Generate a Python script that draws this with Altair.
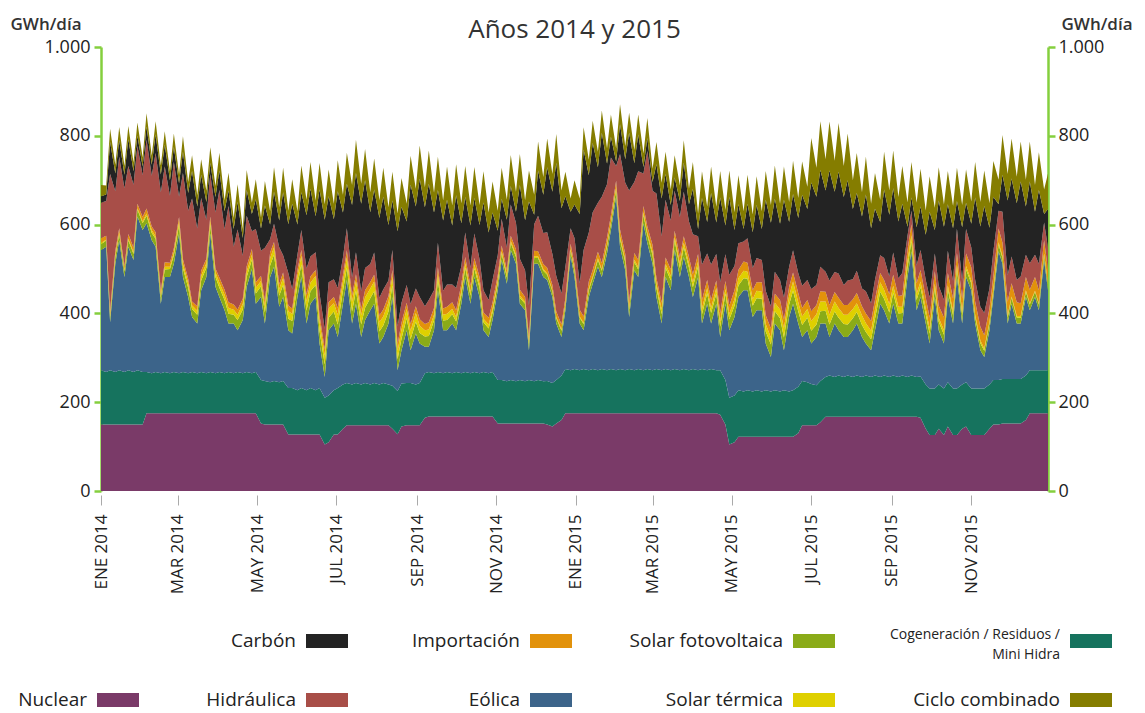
import datetime
import pandas as pd
import altair as alt

# ---------------- data (GWh/día), sampled on Wednesdays and Sundays ----------------
start = datetime.date(2014, 1, 1)  # Wednesday
fechas = []
for w in range(105):
    fechas.append(start + datetime.timedelta(days=7 * w))
    if w < 104:
        fechas.append(start + datetime.timedelta(days=7 * w + 4))
fechas_txt = [d.strftime("%Y-%m-%dT00:00:00") for d in fechas]

nuclear = [
    150, 150, 150, 150, 150, 150, 150, 150, 150, 150,
    175, 175, 175, 175, 175, 175, 175, 175, 175, 175,
    175, 175, 175, 175, 175, 175, 175, 175, 175, 175,
    175, 175, 175, 175, 175, 152, 150, 150, 150, 150,
    150, 127, 127, 127, 127, 127, 127, 127, 127, 105,
    110, 127, 127, 140, 148, 148, 148, 148, 148, 148,
    148, 148, 148, 148, 140, 128, 145, 148, 148, 148,
    148, 165, 168, 168, 168, 168, 168, 168, 168, 168,
    168, 168, 168, 168, 168, 168, 168, 152, 152, 152,
    152, 152, 152, 152, 152, 152, 152, 152, 150, 145,
    152, 160, 175, 175, 175, 175, 175, 175, 175, 175,
    175, 175, 175, 175, 175, 175, 175, 175, 175, 175,
    175, 175, 175, 175, 175, 175, 175, 175, 175, 175,
    175, 175, 175, 175, 175, 175, 172, 150, 105, 110,
    122, 122, 122, 122, 122, 122, 122, 122, 122, 122,
    122, 122, 122, 130, 148, 148, 148, 148, 155, 167,
    167, 167, 167, 167, 167, 167, 167, 167, 167, 167,
    167, 167, 167, 167, 167, 167, 167, 167, 167, 167,
    165, 140, 126, 126, 140, 126, 145, 126, 126, 140,
    145, 126, 126, 126, 126, 140, 150, 150, 152, 152,
    152, 152, 152, 160, 175, 175, 175, 175, 175,
]
cogeneracion = [
    122, 118, 122, 118, 122, 118, 122, 118, 122, 118,
    93, 90, 93, 90, 93, 90, 93, 90, 93, 90,
    93, 90, 93, 90, 93, 90, 93, 90, 93, 90,
    93, 90, 93, 90, 93, 98, 98, 95, 98, 95,
    98, 105, 105, 100, 105, 100, 105, 100, 105, 105,
    105, 100, 105, 100, 95, 92, 95, 92, 95, 92,
    95, 92, 95, 92, 97, 97, 97, 95, 95, 92,
    95, 100, 100, 97, 100, 97, 100, 97, 100, 97,
    100, 97, 100, 97, 100, 97, 100, 98, 98, 95,
    98, 95, 98, 95, 98, 95, 98, 95, 98, 98,
    98, 100, 100, 97, 100, 97, 100, 97, 100, 97,
    100, 97, 100, 97, 100, 97, 100, 97, 100, 97,
    100, 97, 100, 97, 100, 97, 100, 97, 100, 97,
    100, 97, 100, 97, 100, 97, 100, 100, 105, 105,
    105, 102, 105, 102, 105, 102, 105, 102, 105, 102,
    105, 102, 105, 105, 100, 97, 93, 90, 93, 90,
    93, 90, 93, 90, 93, 90, 93, 90, 93, 90,
    93, 90, 93, 90, 93, 90, 93, 90, 93, 90,
    93, 100, 105, 105, 100, 105, 100, 105, 105, 100,
    100, 105, 105, 105, 105, 100, 100, 100, 100, 100,
    100, 100, 100, 100, 97, 97, 97, 97, 97,
]
eolica = [
    271, 282, 108, 244, 293, 214, 278, 252, 346, 320,
    335, 300, 282, 157, 214, 217, 244, 315, 214, 172,
    124, 112, 184, 217, 312, 195, 169, 142, 109, 112,
    94, 120, 192, 235, 154, 187, 129, 237, 257, 170,
    189, 130, 123, 210, 250, 150, 190, 210, 100, 47,
    147, 150, 115, 182, 232, 137, 179, 107, 142, 167,
    179, 92, 104, 137, 200, 47, 75, 119, 74, 115,
    89, 60, 57, 97, 184, 97, 94, 112, 94, 157,
    214, 157, 214, 172, 94, 82, 117, 202, 270, 220,
    293, 265, 172, 160, 67, 265, 262, 235, 227, 194,
    127, 87, 132, 258, 207, 105, 87, 165, 192, 233,
    207, 263, 313, 391, 275, 225, 117, 225, 207, 331,
    283, 240, 162, 105, 207, 180, 268, 210, 252, 210,
    162, 210, 102, 150, 102, 150, 75, 172, 152, 177,
    210, 228, 225, 168, 180, 183, 105, 78, 150, 138,
    90, 168, 195, 142, 99, 117, 91, 109, 129, 120,
    87, 120, 102, 90, 87, 105, 117, 90, 72, 60,
    102, 165, 147, 120, 162, 120, 117, 225, 280, 150,
    179, 137, 101, 206, 122, 101, 192, 146, 251, 137,
    237, 221, 146, 86, 71, 122, 187, 290, 260, 125,
    170, 125, 125, 177, 135, 165, 135, 248, 180,
]
solar_fv = [
    13, 14, 12, 15, 14, 13, 15, 14, 16,
    15, 17, 16, 18, 14, 17, 18, 19,
    19, 20, 21, 18, 20, 22, 21, 19, 22,
    21, 23, 22, 20, 23, 24, 22, 21, 23, 24,
    25, 26, 27, 25, 27, 26, 28,
    27, 28, 29, 28, 27, 29, 28, 28, 27,
    28, 29, 28, 27, 29, 28, 28, 27, 28,
    27, 26, 27, 26, 25, 26, 27, 25, 26,
    24, 23, 24, 22, 23, 22, 23, 21,
    20, 19, 21, 18, 19, 20, 18, 19, 17,
    16, 15, 14, 16, 15, 13, 15, 14, 13,
    13, 14, 12, 13, 12, 14, 13, 12, 13,
    13, 14, 15, 13, 15, 14, 16, 15,
    16, 17, 18, 16, 18, 17, 19, 18,
    19, 20, 21, 20, 22, 21, 20, 22, 21,
    22, 23, 21, 23, 24, 22, 23, 22, 24,
    25, 26, 27, 26, 25, 27, 26, 27, 28,
    28, 27, 29, 28, 29, 28, 27, 28,
    29, 28, 28, 29, 28, 27, 28, 29, 28,
    27, 26, 27, 26, 25, 26, 27, 26, 25,
    24, 23, 24, 22, 23, 23, 22, 21, 22,
    20, 19, 20, 18, 19, 18, 19, 17,
    16, 15, 16, 14, 15, 14, 15, 13, 14,
    13, 14, 13, 12, 13, 12, 13, 12, 13,
]
solar_termica = [
    3, 2, 3, 4, 3, 2, 3, 4, 3,
    4, 5, 6, 5, 4, 6, 5, 6,
    8, 9, 10, 8, 9, 11, 10, 9, 10,
    11, 12, 13, 11, 12, 13, 12, 11, 13, 12,
    15, 16, 17, 15, 16, 17, 16,
    19, 20, 21, 19, 20, 21, 20, 21, 19,
    22, 21, 23, 22, 22, 21, 23, 22, 22,
    21, 20, 21, 20, 19, 20, 21, 19, 20,
    16, 14, 15, 13, 14, 13, 14, 12,
    10, 9, 10, 8, 9, 9, 8, 9, 8,
    6, 5, 6, 4, 5, 5, 4, 5, 4,
    3, 4, 3, 2, 3, 3, 2, 3, 3,
    3, 3, 4, 3, 4, 3, 4, 3,
    5, 6, 5, 4, 6, 5, 6, 5,
    8, 9, 10, 9, 10, 8, 9, 10, 9,
    11, 12, 13, 12, 11, 13, 12, 11, 13,
    15, 16, 17, 16, 15, 17, 16, 17, 16,
    19, 20, 21, 20, 21, 20, 19, 20,
    22, 23, 22, 21, 22, 23, 22, 21, 22,
    21, 20, 21, 20, 19, 20, 21, 20, 19,
    16, 15, 14, 14, 13, 14, 13, 13, 12,
    10, 9, 10, 8, 9, 9, 8, 8,
    6, 5, 6, 5, 4, 5, 5, 4, 5,
    3, 3, 4, 3, 3, 2, 3, 3, 3,
]
importacion = [
    10, 9, 11, 10, 10, 9, 11, 10, 10,
    10, 11, 9, 10, 11, 10, 9, 10,
    10, 11, 10, 9, 10, 11, 10, 10, 9,
    12, 11, 13, 12, 12, 11, 12, 13, 12, 11,
    12, 13, 12, 11, 12, 13, 12,
    14, 13, 15, 14, 14, 13, 15, 14, 14,
    15, 14, 16, 15, 15, 14, 16, 15, 15,
    15, 16, 14, 15, 15, 16, 14, 15, 15,
    15, 14, 16, 15, 15, 14, 16, 15,
    15, 16, 14, 15, 15, 16, 14, 15, 15,
    12, 13, 11, 12, 12, 13, 11, 12, 12,
    12, 11, 13, 12, 12, 11, 13, 12, 12,
    15, 14, 16, 15, 15, 14, 16, 15,
    15, 16, 14, 15, 15, 16, 14, 15,
    15, 14, 16, 15, 15, 14, 16, 15, 15,
    18, 17, 19, 18, 18, 17, 19, 18, 18,
    20, 19, 21, 20, 20, 19, 21, 20, 20,
    20, 21, 19, 20, 20, 21, 19, 20,
    22, 21, 23, 22, 22, 21, 23, 22, 22,
    22, 23, 21, 22, 22, 23, 21, 22, 22,
    25, 24, 26, 25, 25, 24, 26, 25, 25,
    28, 27, 29, 28, 28, 27, 29, 28,
    30, 29, 31, 30, 30, 29, 31, 30, 30,
    30, 31, 29, 30, 30, 31, 29, 30, 30,
]
hidraulica = [
    80, 78, 308, 134, 161, 176, 153, 142, 130, 94,
    155, 114, 178, 222, 216, 151, 194, 46, 194, 153,
    232, 175, 164, 88, 96, 126, 197, 137, 217, 130,
    180, 97, 114, 40, 120, 57, 119, 30, 41, 83,
    39, 73, 44, 35, 45, 59, 45, 40, 50, 45,
    45, 40, 45, 40, 50, 40, 50, 40, 50, 40,
    50, 40, 45, 35, 45, 40, 45, 40, 45, 40,
    50, 40, 50, 40, 55, 40, 50, 40, 50, 40,
    55, 40, 55, 40, 50, 40, 50, 45, 60, 50,
    70, 60, 70, 60, 70, 60, 80, 70, 80, 70,
    80, 70, 70, 35, 60, 60, 150, 110, 130, 110,
    150, 120, 130, 33, 170, 160, 250, 160, 200, 73,
    170, 122, 190, 150, 130, 110, 90, 90, 100, 80,
    90, 40, 80, 60, 80, 60, 70, 60, 70, 55,
    60, 45, 55, 50, 55, 50, 55, 50, 50, 45,
    50, 45, 50, 45, 50, 45, 50, 45, 55, 45,
    55, 45, 55, 45, 55, 45, 50, 40, 50, 40,
    45, 40, 50, 40, 50, 40, 50, 32, 30, 40,
    45, 40, 45, 40, 45, 40, 50, 40, 55, 40,
    55, 45, 50, 45, 50, 45, 55, 40, 70, 60,
    60, 50, 60, 50, 60, 50, 60, 40, 50,
]
carbon = [
    15, 15, 72, 40, 37, 30, 60, 30, 23, 20,
    30, 25, 42, 40, 49, 35, 34, 30, 48, 40,
    62, 50, 52, 40, 25, 35, 44, 40, 35, 40,
    62, 40, 58, 39, 67, 50, 95, 33, 72, 60,
    142, 110, 192, 68, 85, 120, 153, 81, 234, 246,
    194, 135, 218, 101, 100, 163, 178, 197, 198, 117,
    142, 180, 209, 125, 111, 214, 216, 143, 269, 185,
    266, 223, 262, 175, 119, 158, 191, 133, 209, 97,
    80, 95, 80, 77, 198, 152, 152, 55, 45, 63,
    42, 25, 166, 113, 234, 21, 102, 86, 146, 140,
    255, 192, 159, 37, 75, 156, 226, 129, 156, 80,
    144, 46, 47, 10, 67, 53, 130, 42, 83, 15,
    29, 20, 66, 85, 58, 35, 30, 36, 66, 39,
    103, 16, 150, 71, 161, 71, 190, 65, 175, 81,
    88, 28, 78, 81, 119, 70, 205, 188, 164, 127,
    220, 101, 127, 124, 205, 160, 240, 199, 218, 183,
    248, 181, 229, 198, 226, 158, 175, 162, 218, 169,
    160, 75, 154, 139, 145, 128, 156, 20, 30, 86,
    98, 101, 193, 53, 192, 164, 105, 119, 62, 121,
    59, 53, 185, 181, 241, 137, 123, 15, 83, 168,
    176, 173, 214, 109, 184, 97, 166, 19, 87,
]
ciclo_combinado = [
    25, 20, 30, 20, 30, 20, 30, 20, 30, 20,
    30, 20, 30, 20, 30, 20, 30, 20, 35, 25,
    35, 25, 35, 25, 35, 25, 40, 25, 40, 25,
    40, 20, 45, 25, 45, 25, 55, 30, 55, 30,
    55, 30, 55, 30, 60, 35, 60, 35, 60, 35,
    60, 35, 70, 40, 70, 45, 75, 45, 70, 45,
    70, 40, 65, 40, 65, 40, 65, 40, 65, 40,
    75, 45, 75, 45, 75, 45, 75, 45, 70, 45,
    70, 45, 70, 45, 70, 45, 70, 45, 70, 45,
    70, 45, 70, 45, 70, 45, 65, 40, 65, 40,
    65, 40, 55, 30, 55, 35, 50, 35, 50, 35,
    50, 35, 50, 30, 45, 30, 45, 30, 45, 30,
    45, 30, 50, 35, 50, 35, 50, 35, 50, 35,
    60, 35, 60, 35, 60, 35, 60, 35, 60, 40,
    65, 40, 65, 40, 65, 40, 65, 40, 75, 45,
    75, 45, 75, 45, 75, 50, 100, 65, 110, 70,
    110, 70, 110, 70, 105, 65, 90, 55, 85, 55,
    80, 50, 85, 55, 85, 55, 85, 55, 80, 55,
    85, 55, 80, 50, 75, 50, 75, 50, 75, 50,
    75, 50, 80, 55, 80, 55, 80, 55, 90, 60,
    90, 60, 90, 60, 90, 60, 85, 55, 80,
]

fuentes = [
    "Nuclear",
    "Cogeneración / Residuos / Mini Hidra",
    "Eólica",
    "Solar fotovoltaica",
    "Solar térmica",
    "Importación",
    "Hidráulica",
    "Carbón",
    "Ciclo combinado",
]
colores = [
    "#7a3a68", "#16735e", "#3c648a", "#8aab18", "#dfd000",
    "#e2920b", "#a84e48", "#232323", "#857d00",
]
series = [nuclear, cogeneracion, eolica, solar_fv, solar_termica,
          importacion, hidraulica, carbon, ciclo_combinado]

y_ticks = [0, 200, 400, 600, 800, 1000]
meses_ticks = [(2014, 1), (2014, 3), (2014, 5), (2014, 7), (2014, 9), (2014, 11),
               (2015, 1), (2015, 3), (2015, 5), (2015, 7), (2015, 9), (2015, 11)]

rows = []
for i, (name, vals) in enumerate(zip(fuentes, series)):
    for f, v in zip(fechas_txt, vals):
        rows.append({"fecha": f, "valor": v, "fuente": name, "orden": i})
df = pd.DataFrame(rows)

# ---------------- layout constants ----------------
W, H = 947, 444
FONT = "Open Sans"
GREEN = "#84cf3e"

x_dom = [alt.DateTime(year=2014, month=1, date=1),
         alt.DateTime(year=2015, month=12, date=30)]

area = alt.Chart(df).mark_area(interpolate="linear").encode(
    x=alt.X(
        "fecha:T",
        scale=alt.Scale(domain=x_dom, nice=False),
        axis=alt.Axis(
            values=[alt.DateTime(year=yy, month=mm, date=1) for yy, mm in meses_ticks],
            labelExpr="['ENE','FEB','MAR','ABR','MAY','JUN','JUL','AGO','SEP','OCT','NOV','DIC'][month(datum.value)] + ' ' + year(datum.value)",
            labelAngle=270, labelAlign="right", labelBaseline="middle",
            labelFont=FONT, labelFontSize=17, labelFontWeight=500, labelColor="#222",
            labelPadding=9, labelOverlap=False, labelBound=False, labelFlush=False,
            domain=False, ticks=True, tickColor="#aaaaaa", tickSize=10, tickWidth=1,
            offset=4, grid=False, title=None,
        ),
    ),
    y=alt.Y(
        "valor:Q", stack="zero",
        scale=alt.Scale(domain=[0, 1000], nice=False),
        axis=alt.Axis(
            orient="left", values=y_ticks, grid=False,
            labelExpr="replace(format(datum.value, ','), ',', '.')",
            labelFont=FONT, labelFontSize=18, labelColor="#222", labelPadding=4,
            domainColor=GREEN, domainWidth=2.5, tickColor=GREEN, tickWidth=2.5, tickSize=7,
            title="GWh/día", titleAngle=0, titleAlign="left", titleBaseline="middle",
            titleX=-91, titleY=-23, titleFont=FONT, titleFontSize=17,
            titleFontWeight=600, titleColor="#333",
        ),
    ),
    color=alt.Color("fuente:N", scale=alt.Scale(domain=fuentes, range=colores), legend=None),
    order=alt.Order("orden:Q", sort="ascending"),
)

eje_der = alt.Chart(pd.DataFrame({"y": y_ticks})).mark_rule(opacity=0).encode(
    y=alt.Y(
        "y:Q", scale=alt.Scale(domain=[0, 1000], nice=False),
        axis=alt.Axis(
            orient="right", values=y_ticks, grid=False,
            labelExpr="replace(format(datum.value, ','), ',', '.')",
            labelFont=FONT, labelFontSize=18, labelColor="#222", labelPadding=3,
            domainColor=GREEN, domainWidth=2.5, tickColor=GREEN, tickWidth=2.5, tickSize=7,
            title="GWh/día", titleAngle=0, titleAlign="left", titleBaseline="middle",
            titleX=13, titleY=-23, titleFont=FONT, titleFontSize=17,
            titleFontWeight=600, titleColor="#333",
        ),
    )
)

dummy = pd.DataFrame({"a": [0]})
capas = [area, eje_der]

capas.append(
    alt.Chart(dummy).mark_text(font=FONT, fontSize=26, color="#333", align="center",
                               baseline="middle").encode(
        x=alt.value(W / 2), y=alt.value(-17), text=alt.value("Años 2014 y 2015"))
)

# custom legend: label to the left of the swatch
leyenda = [
    # (fuente index, swatch left x, row center y)
    (7, 205, 594), (5, 429, 594), (3, 692, 594), (1, 969, 594),
    (0, -4, 653), (6, 205, 653), (2, 429, 653), (4, 692, 653), (8, 969, 653),
]
for idx, sx, cy in leyenda:
    capas.append(
        alt.Chart(dummy).mark_rect(color=colores[idx]).encode(
            x=alt.value(sx), x2=alt.value(sx + 42), y=alt.value(cy - 7), y2=alt.value(cy + 7))
    )
    if idx == 1:
        capas.append(
            alt.Chart(dummy).mark_text(font=FONT, fontSize=14, color="#222", align="right",
                                       baseline="middle", lineHeight=20,
                                       text=["Cogeneración / Residuos /", "Mini Hidra"]).encode(
                x=alt.value(sx - 10), y=alt.value(cy - 6))
        )
    else:
        capas.append(
            alt.Chart(dummy).mark_text(font=FONT, fontSize=19, color="#222", align="right",
                                       baseline="middle").encode(
                x=alt.value(sx - 10), y=alt.value(cy), text=alt.value(fuentes[idx]))
        )

chart = alt.layer(*capas).resolve_scale(y="independent").properties(
    width=W, height=H,
    autosize=alt.AutoSizeParams(type="none"),
    padding={"left": 93, "top": 39, "right": 89, "bottom": 222},
    background="white",
).configure_view(stroke=None)

chart.save("out.html", embed_options={"renderer": "svg", "actions": False})
